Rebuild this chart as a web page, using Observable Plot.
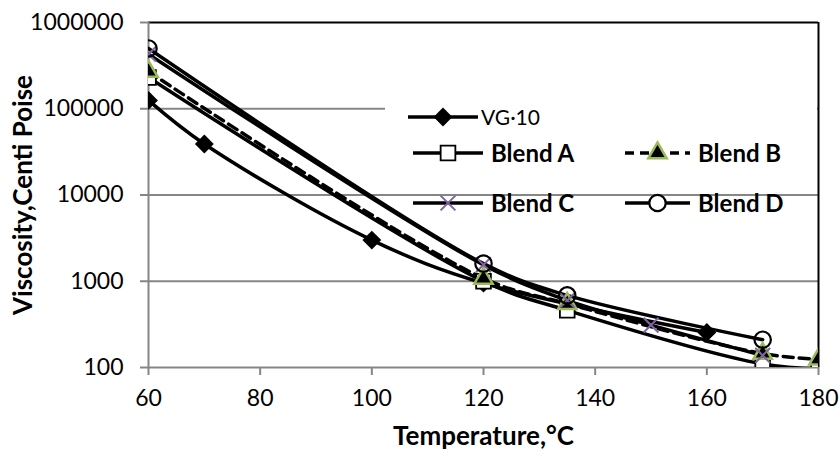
<!DOCTYPE html>
<html>
<head>
<meta charset="utf-8">
<script src="https://cdn.jsdelivr.net/npm/d3@7"></script>
<script src="https://cdn.jsdelivr.net/npm/@observablehq/plot@0.6"></script>
<style>
  html, body { margin: 0; padding: 0; background: #fff; }
  #chart { width: 840px; height: 459px; }
  svg { font-family: Lato, "Open Sans", sans-serif; }
</style>
</head>
<body>
<div id="chart"></div>
<script>
// ---- data ----
const seriesNames = ["VG·10", "Blend A", "Blend B", "Blend C", "Blend D"];
const vgTemp = [60, 70, 100, 120, 160];
const vgVisc = [125000, 39000, 3000, 950, 255];
const aTemp = [60, 120, 135, 170, 180];
const aVisc = [230000, 1000, 460, 110, 97];
const bTemp = [60, 120, 135, 170, 180];
const bVisc = [270000, 1080, 550, 145, 125];
const cTemp = [60, 120, 135, 150, 170];
const cVisc = [430000, 1550, 600, 310, 138];
const dTemp = [60, 120, 135, 170];
const dVisc = [500000, 1600, 685, 210];
const xTicks = [60, 80, 100, 120, 140, 160, 180];
const yTicks = [100, 1000, 10000, 100000, 1000000];
const xTitle = "Temperature,°C";
const yTitle = "Viscosity,Centi Poise";

const rows = (name, T, V) => T.map((t, i) => ({series: name, temp: t, visc: V[i]}));
const vg = rows(seriesNames[0], vgTemp, vgVisc);
const bA = rows(seriesNames[1], aTemp, aVisc);
const bB = rows(seriesNames[2], bTemp, bVisc);
const bC = rows(seriesNames[3], cTemp, cVisc);
const bD = rows(seriesNames[4], dTemp, dVisc);

const grey = "#868686";
const green = "#9BBB59";
const purple = "#8064A2";
const LW = 3.5;

const style = {
  VG: {symbol: "diamond2", r: 8.5, fill: "black", stroke: "none", strokeWidth: 0},
  A: {symbol: "square", r: 8.3, fill: "white", stroke: "black", strokeWidth: 1.8},
  B: {symbol: "triangle", r: 6.8, fill: "black", stroke: green, strokeWidth: 2.5},
  C: {symbol: "times", r: 6.8, fill: "none", stroke: purple, strokeWidth: 2},
  D: {symbol: "circle", r: 8.2, fill: "none", stroke: "black", strokeWidth: 2.2}
};

const lineOpts = {x: "temp", y: "visc", stroke: "black", strokeWidth: LW, curve: "catmull-rom", clip: true};
const dotOpts = (s) => ({x: "temp", y: "visc", clip: true, ...s});

const svg = Plot.plot({
  width: 840,
  height: 459,
  marginLeft: 148,
  marginRight: 22,
  marginTop: 22,
  marginBottom: 92,
  style: {fontFamily: "Lato, 'Open Sans', sans-serif", fontSize: "23px", color: "black", background: "white"},
  x: {domain: [60, 180]},
  y: {type: "log", domain: [100, 1000000]},
  marks: [
    Plot.gridY({ticks: [1000, 10000, 100000], stroke: grey, strokeOpacity: 1, strokeWidth: 2}),
    Plot.ruleY([1000000], {stroke: "black", strokeWidth: 2}),
    Plot.ruleX([180], {stroke: "black", strokeWidth: 2}),
    Plot.ruleX([60], {stroke: grey, strokeWidth: 2}),
    Plot.ruleY([100], {stroke: grey, strokeWidth: 2}),
    Plot.axisX({ticks: xTicks, tickSize: 8, tickPadding: 14, stroke: grey, strokeWidth: 2, fill: "black", label: null, tickFormat: d => String(d), fontSize: 23}),
    Plot.axisY({ticks: yTicks, tickSize: 8, tickPadding: 17, stroke: grey, strokeWidth: 2, fill: "black", label: null, tickFormat: d => String(d), fontSize: 23}),
    Plot.text([xTitle], {frameAnchor: "bottom", dy: 77, fontWeight: "bold", fontSize: 26, fill: "black"}),
    Plot.text([yTitle], {frameAnchor: "left", dx: -125, rotate: -90, textAnchor: "middle", fontWeight: "bold", fontSize: 26, fill: "black"}),
    Plot.line(vg, lineOpts),
    Plot.line(bA, lineOpts),
    Plot.line(bB, {...lineOpts, strokeDasharray: "10,6"}),
    Plot.line(bC, lineOpts),
    Plot.line(bD, lineOpts),
    Plot.dot(vg, dotOpts(style.VG)),
    Plot.dot(bA, dotOpts(style.A)),
    Plot.dot(bB, dotOpts(style.B)),
    Plot.dot(bC, dotOpts(style.C)),
    Plot.dot(bD, dotOpts(style.D))
  ]
});

// ---- legend (inside the plot area) ----
const symMap = {diamond2: d3.symbolDiamond2, square: d3.symbolSquare, triangle: d3.symbolTriangle, times: d3.symbolTimes, circle: d3.symbolCircle};
const legendItems = [
  {name: seriesNames[0], s: style.VG, x: 408, y: 117, w: 70, dash: null, weight: "normal", size: 21},
  {name: seriesNames[1], s: style.A, x: 413, y: 153, w: 70, dash: null, weight: "bold", size: 24},
  {name: seriesNames[2], s: style.B, x: 625, y: 153, w: 65, dash: "9,6", weight: "bold", size: 24},
  {name: seriesNames[3], s: style.C, x: 413, y: 203, w: 70, dash: null, weight: "bold", size: 24},
  {name: seriesNames[4], s: {...style.D, fill: "white"}, x: 625, y: 203, w: 65, dash: null, weight: "bold", size: 24}
];
const g = d3.select(svg).append("g").attr("text-anchor", "start");
g.append("rect").attr("x", 385).attr("y", 100).attr("width", 432).attr("height", 88).attr("fill", "white");
for (const it of legendItems) {
  g.append("line").attr("x1", it.x).attr("x2", it.x + it.w).attr("y1", it.y).attr("y2", it.y)
    .attr("stroke", "black").attr("stroke-width", LW).attr("stroke-dasharray", it.dash);
  g.append("path")
    .attr("transform", `translate(${it.x + it.w / 2},${it.y})`)
    .attr("d", d3.symbol(symMap[it.s.symbol], Math.PI * it.s.r * it.s.r)())
    .attr("fill", it.s.fill).attr("stroke", it.s.stroke).attr("stroke-width", it.s.strokeWidth);
  g.append("text").attr("x", it.x + it.w + (it.weight === "bold" ? 8 : 3)).attr("y", it.y).attr("dy", "0.36em")
    .attr("text-anchor", "start")
    .attr("font-weight", it.weight).attr("font-size", it.size).attr("fill", "black").text(it.name);
}

document.getElementById("chart").appendChild(svg);
</script>
</body>
</html>
